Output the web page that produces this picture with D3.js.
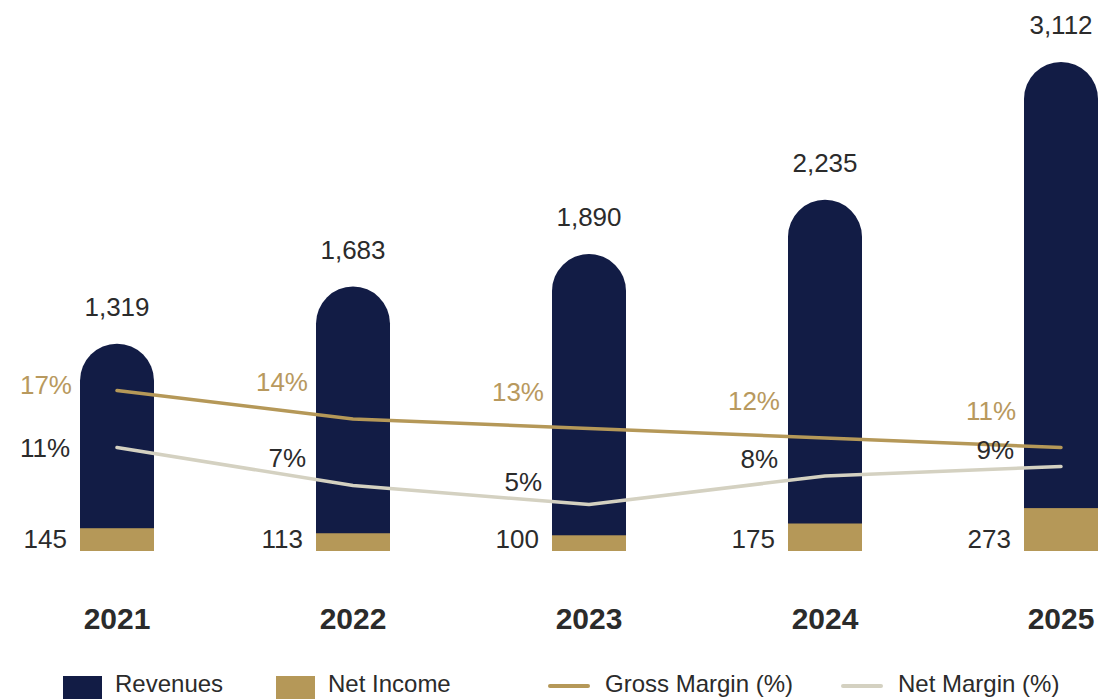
<!DOCTYPE html>
<html>
<head>
<meta charset="utf-8">
<script src="https://cdn.jsdelivr.net/npm/d3@7"></script>
<style>
  html, body { margin: 0; padding: 0; background: #ffffff; }
  svg { display: block; font-family: "Liberation Sans", Arial, sans-serif; }
</style>
</head>
<body>
<svg id="chart" width="1104" height="699"></svg>
<script>
// Financial summary, 2021–2025
const years = ["2021", "2022", "2023", "2024", "2025"];
const revenues = [1319, 1683, 1890, 2235, 3112];
const netIncome = [145, 113, 100, 175, 273];
const grossMargin = [17, 14, 13, 12, 11];
const netMargin = [11, 7, 5, 8, 9];

const legendItems = [
  { label: "Revenues", kind: "rect", key: "rev" },
  { label: "Net Income", kind: "rect", key: "ni" },
  { label: "Gross Margin (%)", kind: "line", key: "gm" },
  { label: "Net Margin (%)", kind: "line", key: "nm" }
];

const colors = {
  rev: "#121c45",
  ni: "#b59858",
  gm: "#b59858",
  nm: "#d4d1c1",
  text: "#2b2b2b",
  goldText: "#b8995e"
};

const svg = d3.select("#chart");

const x = d3.scalePoint().domain(years).range([117, 1061]);
const barW = 74;
const baseY = 551;
const y = d3.scaleLinear().domain([0, 3112]).range([baseY, 62]);
const yPct = d3.scaleLinear().domain([0, 20]).range([552, 362]);

const fmt = d3.format(",");

// Revenue bars with fully rounded tops
function roundTopBar(cx, top, bottom, w) {
  const r = w / 2;
  const l = cx - r, rr = cx + r;
  return `M${l},${bottom} L${l},${top + r} A${r},${r} 0 0 1 ${rr},${top + r} L${rr},${bottom} Z`;
}

svg.append("g").selectAll("path")
  .data(years)
  .join("path")
  .attr("d", (d, i) => roundTopBar(x(d), y(revenues[i]), baseY, barW))
  .attr("fill", colors.rev);

// Net income bars overlaid at the base
svg.append("g").selectAll("rect")
  .data(years)
  .join("rect")
  .attr("x", d => x(d) - barW / 2)
  .attr("width", barW)
  .attr("y", (d, i) => y(netIncome[i]))
  .attr("height", (d, i) => baseY - y(netIncome[i]))
  .attr("fill", colors.ni);

// Margin lines
const line = d3.line().x(d => x(d.year)).y(d => yPct(d.v));
const gmData = years.map((yr, i) => ({ year: yr, v: grossMargin[i] }));
const nmData = years.map((yr, i) => ({ year: yr, v: netMargin[i] }));

svg.append("path").datum(nmData)
  .attr("d", line)
  .attr("fill", "none")
  .attr("stroke", colors.nm)
  .attr("stroke-width", 3.5)
  .attr("stroke-linecap", "round")
  .attr("stroke-linejoin", "round");

svg.append("path").datum(gmData)
  .attr("d", line)
  .attr("fill", "none")
  .attr("stroke", colors.gm)
  .attr("stroke-width", 3.5)
  .attr("stroke-linecap", "round")
  .attr("stroke-linejoin", "round");

// Revenue value labels above bars
svg.append("g").selectAll("text")
  .data(years)
  .join("text")
  .attr("x", d => x(d))
  .attr("y", (d, i) => y(revenues[i]) - 28)
  .attr("text-anchor", "middle")
  .attr("font-size", 26)
  .attr("fill", colors.text)
  .text((d, i) => fmt(revenues[i]));

// Net income labels to the left of each bar
svg.append("g").selectAll("text")
  .data(years)
  .join("text")
  .attr("x", d => x(d) - barW / 2 - 13)
  .attr("y", 548)
  .attr("text-anchor", "end")
  .attr("font-size", 26)
  .attr("fill", colors.text)
  .text((d, i) => fmt(netIncome[i]));

// Line position at a given x, between category points
function lineYAt(values, px) {
  const xs = years.map(d => x(d));
  if (px <= xs[0]) return yPct(values[0]);
  for (let k = 0; k < xs.length - 1; k++) {
    if (px >= xs[k] && px <= xs[k + 1]) {
      const t = (px - xs[k]) / (xs[k + 1] - xs[k]);
      return yPct(values[k]) + t * (yPct(values[k + 1]) - yPct(values[k]));
    }
  }
  return yPct(values[values.length - 1]);
}

// Gross margin labels
svg.append("g").selectAll("text")
  .data(years)
  .join("text")
  .attr("x", d => x(d) - barW / 2 - 8)
  .attr("y", (d, i) => i === 0 ? yPct(grossMargin[i]) + 3 : yPct(grossMargin[i]) - 28)
  .attr("text-anchor", "end")
  .attr("font-size", 26)
  .attr("fill", colors.goldText)
  .text((d, i) => grossMargin[i] + "%");

// Net margin labels, kept just above the line
svg.append("g").selectAll("text")
  .data(years)
  .join("text")
  .attr("x", d => x(d) - barW / 2 - 10)
  .attr("y", (d, i) => {
    if (i === 0) return yPct(netMargin[i]) + 9;
    const lx = x(d) - barW / 2 - 30;
    return Math.min(lineYAt(netMargin, lx), yPct(netMargin[i])) - 8;
  })
  .attr("text-anchor", "end")
  .attr("font-size", 26)
  .attr("fill", colors.text)
  .text((d, i) => netMargin[i] + "%");

// Year axis labels
svg.append("g").selectAll("text")
  .data(years)
  .join("text")
  .attr("x", d => x(d))
  .attr("y", 629)
  .attr("text-anchor", "middle")
  .attr("font-size", 30)
  .attr("font-weight", "bold")
  .attr("fill", colors.text)
  .text(d => d);

// Legend
const legendX = [63, 276, 549, 842];
const lg = svg.append("g");
legendItems.forEach((item, i) => {
  const g = lg.append("g").attr("transform", `translate(${legendX[i]},0)`);
  if (item.kind === "rect") {
    g.append("rect").attr("x", 0).attr("y", 676).attr("width", 39).attr("height", 23)
      .attr("fill", colors[item.key]);
    g.append("text").attr("x", 52).attr("y", 692)
      .attr("font-size", 24).attr("fill", colors.text).text(item.label);
  } else {
    g.append("line").attr("x1", 1).attr("x2", 39).attr("y1", 686).attr("y2", 686)
      .attr("stroke", colors[item.key]).attr("stroke-width", 4).attr("stroke-linecap", "round");
    g.append("text").attr("x", 56).attr("y", 692)
      .attr("font-size", 24).attr("fill", colors.text).text(item.label);
  }
});
</script>
</body>
</html>
